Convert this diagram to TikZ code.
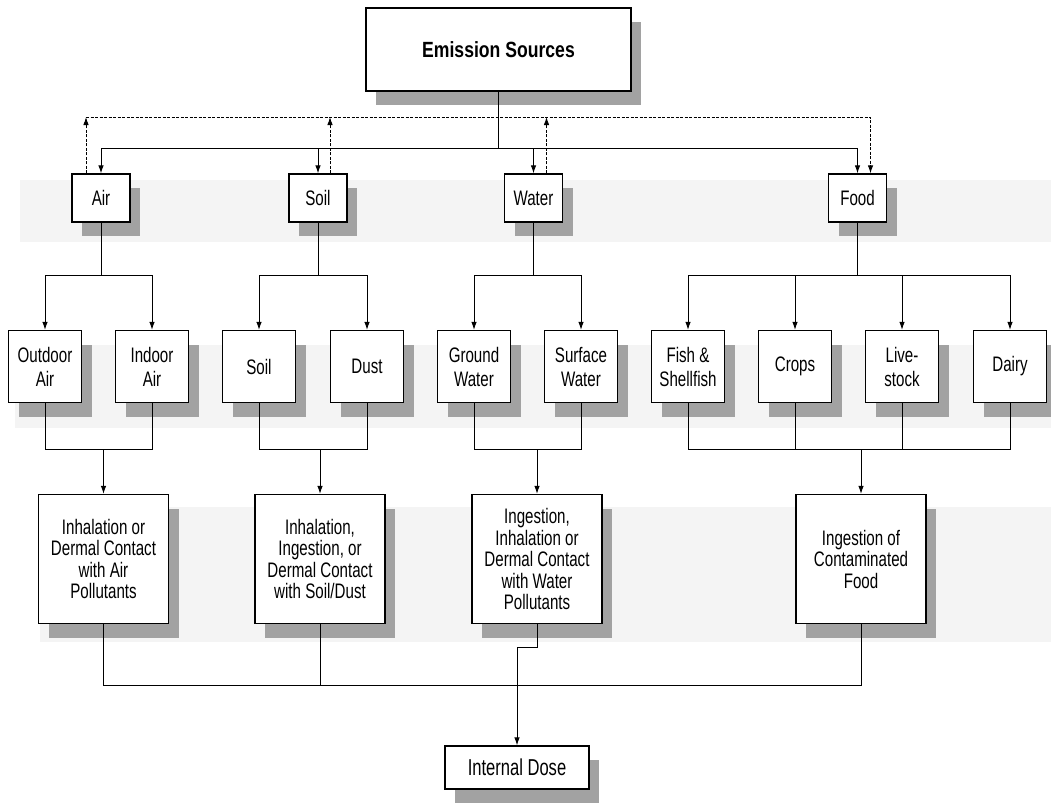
\documentclass[tikz,border=0pt]{standalone}
\usepackage{fontspec}
\setmainfont{Liberation Sans}[FakeStretch=0.72, BoldFeatures={FakeStretch=0.8}]
\usetikzlibrary{arrows.meta, positioning, shadows}
\definecolor{shgray}{HTML}{A2A2A2}
\definecolor{bandgray}{HTML}{F4F4F4}

\begin{document}
\begin{tikzpicture}[
  x=1pt, y=-1pt,
  every node/.style={font=\fontsize{21}{22}\selectfont},
  box/.style={rectangle, draw=black, fill=white, line width=1.3pt, align=center, inner sep=0pt, drop shadow={shadow xshift=10pt, shadow yshift=-14pt, fill=shgray, opacity=1}},
  srcbox/.style={box, minimum width=265pt, minimum height=83pt, font=\fontsize{22}{24}\selectfont\bfseries},
  mediabox/.style={box, minimum width=58pt, minimum height=48pt},
  subbox/.style={box, minimum width=73pt, minimum height=72pt, font=\fontsize{21}{24}\selectfont},
  routebox/.style={box, minimum width=130pt, minimum height=129pt, font=\fontsize{21}{21.5}\selectfont},
  dosebox/.style={box, minimum width=144pt, minimum height=43pt, font=\fontsize{23}{24}\selectfont},
  conn/.style={line width=0.9pt},
  arrow/.style={-{Latex[length=8pt, width=5.5pt]}, line width=0.9pt},
  dasharrow/.style={arrow, dash pattern=on 3pt off 1.5pt},
]
\useasboundingbox (0,0) rectangle (1051,808);
\fill[bandgray] (20,180) rectangle (1051,242);
\fill[bandgray] (15,345) rectangle (1051,428);
\fill[bandgray] (40,507) rectangle (1051,642);

\node[srcbox] (src) at (498.5,49.5) {Emission Sources};

\node[mediabox] (air) at (101,198) {Air};
\node[mediabox] (soil) at (318,198) {Soil};
\node[mediabox] (water) at (533.5,198) {Water};
\node[mediabox] (food) at (857.5,198) {Food};

\node[subbox] (outdoor) at (45,366.5) {Outdoor\\Air};
\node[subbox] (indoor) at (152,366.5) {Indoor\\Air};
\node[subbox] (soilb) at (259,366.5) {Soil};
\node[subbox] (dust) at (367,366.5) {Dust};
\node[subbox] (ground) at (474,366.5) {Ground\\Water};
\node[subbox] (surface) at (581,366.5) {Surface\\Water};
\node[subbox] (fish) at (688,366.5) {Fish \&\\Shellfish};
\node[subbox] (crops) at (795,366.5) {Crops};
\node[subbox] (live) at (902,366.5) {Live-\\stock};
\node[subbox] (dairy) at (1010,366.5) {Dairy};

\node[routebox] (airpath) at (103.5,559) {Inhalation or\\Dermal Contact\\with Air\\Pollutants};
\node[routebox] (soilpath) at (320,559) {Inhalation,\\Ingestion, or\\Dermal Contact\\with Soil/Dust};
\node[routebox] (waterpath) at (537,559) {Ingestion,\\Inhalation or\\Dermal Contact\\with Water\\Pollutants};
\node[routebox] (foodpath) at (861,559) {Ingestion of\\Contaminated\\Food};

\node[dosebox] (dose) at (517,767.5) {Internal Dose};

\coordinate (tb) at (0,148);
\coordinate (db) at (0,117);
\coordinate (ab) at (0,275.5);
\coordinate (jb) at (0,449);
\coordinate (eb) at (0,685.5);
\coordinate (wj) at (0,647);

\draw[conn] (src.south) -- (src.south |- tb);
\draw[conn] (air.north |- tb) -- (food.north |- tb);
\draw[arrow] (air.north |- tb) -- (air.north);
\draw[arrow] (soil.north |- tb) -- (soil.north);
\draw[arrow] (water.north |- tb) -- (water.north);
\draw[arrow] (food.north |- tb) -- (food.north);

% transfer into food
\draw[dasharrow] ([xshift=-15pt]air.north) -- ([xshift=-15pt]air.north |- db);
\draw[dasharrow] ([xshift=12pt]soil.north) -- ([xshift=12pt]soil.north |- db);
\draw[dasharrow] ([xshift=13pt]water.north) -- ([xshift=13pt]water.north |- db);
\draw[dasharrow] ([xshift=-15pt]air.north |- db) -- ([xshift=13pt]food.north |- db) -- ([xshift=13pt]food.north);

\draw[arrow] (air.south) -- (air.south |- ab) -| (outdoor.north);
\draw[arrow] (air.south |- ab) -| (indoor.north);
\draw[arrow] (soil.south) -- (soil.south |- ab) -| (soilb.north);
\draw[arrow] (soil.south |- ab) -| (dust.north);
\draw[arrow] (water.south) -- (water.south |- ab) -| (ground.north);
\draw[arrow] (water.south |- ab) -| (surface.north);
\draw[arrow] (food.south) -- (food.south |- ab) -| (fish.north);
\draw[arrow] (food.south |- ab) -| (crops.north);
\draw[arrow] (food.south |- ab) -| (live.north);
\draw[arrow] (food.south |- ab) -| (dairy.north);

\draw[conn] (outdoor.south) -- (outdoor.south |- jb) -- (indoor.south |- jb) -- (indoor.south);
\draw[arrow] (airpath.north |- jb) -- (airpath.north);
\draw[conn] (soilb.south) -- (soilb.south |- jb) -- (dust.south |- jb) -- (dust.south);
\draw[arrow] (soilpath.north |- jb) -- (soilpath.north);
\draw[conn] (ground.south) -- (ground.south |- jb) -- (surface.south |- jb) -- (surface.south);
\draw[arrow] (waterpath.north |- jb) -- (waterpath.north);
\draw[conn] (fish.south) -- (fish.south |- jb) -- (dairy.south |- jb) -- (dairy.south);
\draw[conn] (crops.south) -- (crops.south |- jb);
\draw[conn] (live.south) -- (live.south |- jb);
\draw[arrow] (foodpath.north |- jb) -- (foodpath.north);

\draw[conn] (airpath.south) -- (airpath.south |- eb) -- (foodpath.south |- eb) -- (foodpath.south);
\draw[conn] (soilpath.south) -- (soilpath.south |- eb);
\draw[arrow] (waterpath.south) -- (waterpath.south |- wj) -| (dose.north);

\end{tikzpicture}
\end{document}
